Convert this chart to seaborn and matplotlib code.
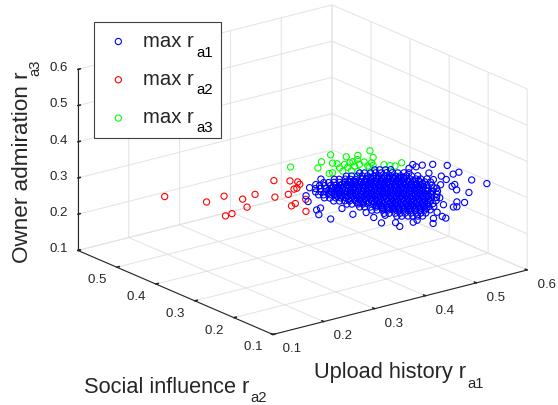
from matplotlib import pyplot as plt
import pandas as pd
import seaborn as sns

sns.set_theme(style="white")
plt.rcParams["font.family"] = ["Liberation Sans", "DejaVu Sans"]

# Values
red_a1 = [.227, .281, .287, .312, .315, .333, .331, .329, .306, .323, .333, .340, .345, .344, .349, .341, .375, .376, .377, .402]
red_a2 = [.543, .506, .469, .454, .426, .470, .506, .520, .366, .347, .340, .344, .358, .364, .385, .409, .401, .412, .377, .409]
red_a3 = [.230, .213, .244, .234, .259, .197, .163, .151, .328, .330, .327, .316, .297, .292, .266, .250, .224, .212, .246, .189]

green_a1 = [.295, .325, .316, .311, .330, .336, .348, .350, .331, .340, .343, .360, .348, .348, .347, .345, .347, .354, .359, .357, .365, .373, .360, .369, .376, .372, .386, .394, .400, .400, .360, .377]
green_a2 = [.309, .278, .257, .227, .247, .243, .279, .273, .213, .195, .168, .182, .207, .218, .225, .236, .251, .239, .228, .256, .244, .238, .205, .198, .203, .211, .188, .183, .178, .161, .217, .214]
green_a3 = [.396, .397, .427, .462, .423, .421, .373, .377, .456, .465, .489, .458, .445, .434, .428, .419, .402, .407, .413, .387, .391, .389, .435, .433, .421, .417, .426, .423, .422, .439, .423, .409]

blue_a1 = [
    .530, .507, .478, .476, .452, .435, .426, .415, .423, .419, .449, .468, .480, .467, .485, .500, .499,
    .512, .530, .546, .537, .544, .547, .529, .511, .559, .552, .557, .547, .538, .534, .534, .529, .517,
    .503, .484, .491, .466, .456, .443, .422, .410, .410, .433, .384, .357, .370, .357, .351,
    .387, .392, .398, .403,
    .378, .383, .389, .394, .400, .405, .411, .417, .423, .428,
    .371, .376, .382, .387, .392, .399, .404, .410, .415, .421, .426, .432, .437, .443,
    .365, .370, .376, .382, .387, .393, .398, .403, .409, .414, .420, .425, .430, .436, .442, .448, .453, .459,
    .361, .366, .371, .377, .382, .387, .393, .398, .403, .409, .414, .419, .426, .431, .436, .442, .447, .452, .458, .463, .469,
    .363, .368, .374, .379, .384, .390, .395, .400, .406, .412, .417, .423, .428, .433, .439, .444, .449, .455, .460, .465, .472, .477,
    .365, .370, .376, .381, .386, .393, .398, .403, .409, .414, .419, .425, .430, .435, .441, .446, .452, .458, .463, .468, .474, .479, .485, .488,
    .372, .377, .382, .388, .393, .398, .404, .409, .414, .420, .425, .430, .437, .442, .447, .453, .458, .463, .469, .474, .479, .485, .490, .495,
    .381, .386, .392, .397, .402, .408, .413, .419, .425, .430, .435, .441, .446, .451, .457, .462, .467, .473, .479, .484, .490, .495, .501,
    .393, .399, .405, .410, .415, .421, .426, .431, .437, .442, .447, .453, .459, .464, .470, .475, .480, .486, .491, .496, .502, .507,
    .409, .415, .420, .425, .431, .436, .442, .448, .453, .458, .464, .469, .474, .480, .485, .490, .496, .502, .507, .513,
    .429, .434, .440, .445, .450, .456, .461, .466, .472, .477, .483, .489, .494, .499, .505, .510, .516,
    .448, .453, .459, .465, .470, .476, .481, .486, .492, .497, .502, .508, .513, .518, .523,
    .467, .472, .478, .483, .488, .494, .499, .504, .511, .516, .521, .526,
    .486, .491, .497, .502, .507, .513, .518, .523, .528,
    .505, .510, .516, .521, .526, .531,
    .382, .388, .393, .399, .404, .409, .415, .420, .426, .431, .436, .442, .448, .454,
    .383, .388, .393, .399, .404, .409, .415, .420, .425, .432, .437, .442, .448, .453, .458, .464,
    .380, .385, .390, .396, .401, .406, .412, .418, .423, .429, .434, .439, .445, .450, .455, .461, .466, .471,
    .382, .387, .392, .399, .404, .409, .415, .420, .425, .431, .436, .441, .447, .452, .458, .464, .469, .474, .480,
    .388, .394, .399, .404, .410, .415, .420, .426, .431, .436, .443, .448, .453, .459, .464, .469, .475, .480, .485, .491,
    .403, .408, .414, .419, .425, .431, .436, .441, .447, .452, .457, .463, .468, .473, .479, .485, .490, .496,
    .421, .427, .432, .437, .443, .448, .453, .459, .465, .470, .476, .481, .486, .492, .497, .502,
    .437, .442, .448, .454, .459, .464, .470, .475, .480, .486, .491, .496, .502, .508,
    .462, .467, .472, .478, .483, .489, .495, .500, .505, .511,
    .398, .405, .410, .416, .421, .427, .432,
    .476, .482, .487, .492, .498, .503, .508, .514, .519,
]
blue_a2 = [
    .112, .121, .116, .128, .112, .127, .142, .152, .154, .167, .155, .148, .151, .167, .172, .162, .154,
    .166, .158, .190, .198, .216, .211, .222, .208, .255, .255, .285, .271, .250, .296, .306, .334, .329,
    .347, .342, .322, .338, .359, .399, .402, .392, .382, .357, .380, .341, .367, .325, .304,
    .213, .207, .200, .193,
    .240, .234, .226, .220, .213, .206, .199, .193, .185, .179,
    .265, .258, .251, .245, .238, .231, .225, .217, .211, .204, .197, .190, .184, .176,
    .288, .282, .274, .268, .262, .254, .248, .242, .234, .228, .221, .214, .208, .201, .194, .187, .181, .173,
    .310, .304, .297, .290, .284, .277, .270, .264, .258, .250, .244, .238, .230, .224, .218, .210, .204, .198, .190, .184, .177,
    .323, .317, .309, .303, .297, .289, .283, .277, .269, .263, .257, .250, .243, .237, .230, .223, .217, .210, .203, .197, .190, .184,
    .336, .330, .323, .316, .310, .303, .296, .290, .283, .277, .270, .263, .257, .250, .243, .237, .230, .223, .217, .210, .203, .197, .189, .186,
    .345, .338, .332, .325, .318, .312, .305, .299, .292, .285, .279, .272, .265, .259, .252, .245, .239, .232, .225, .219, .213, .205, .199, .193,
    .349, .343, .335, .329, .323, .316, .309, .303, .296, .289, .283, .276, .269, .263, .256, .249, .243, .236, .230, .223, .216, .210, .202,
    .350, .344, .336, .330, .324, .316, .310, .304, .296, .290, .284, .276, .270, .264, .257, .250, .244, .237, .230, .224, .217, .211,
    .347, .340, .333, .327, .320, .313, .307, .300, .294, .287, .280, .274, .267, .260, .254, .247, .240, .234, .228, .220,
    .339, .333, .325, .319, .313, .306, .299, .293, .286, .279, .273, .266, .260, .253, .246, .240, .232,
    .331, .325, .318, .311, .305, .298, .291, .285, .278, .272, .265, .258, .252, .245, .239,
    .325, .318, .311, .305, .298, .291, .285, .278, .271, .265, .259, .252,
    .318, .312, .304, .298, .292, .284, .278, .272, .266,
    .310, .304, .296, .290, .284, .278,
    .275, .269, .263, .255, .249, .243, .235, .229, .222, .215, .209, .202, .195, .188,
    .291, .285, .278, .271, .265, .259, .251, .245, .239, .231, .225, .219, .211, .205, .199, .191,
    .310, .304, .298, .290, .284, .278, .270, .264, .258, .251, .244, .238, .231, .224, .218, .211, .204, .198,
    .324, .317, .311, .304, .297, .291, .284, .278, .271, .264, .258, .251, .244, .238, .231, .224, .218, .211, .204,
    .333, .326, .319, .313, .306, .300, .293, .286, .280, .273, .266, .260, .253, .246, .240, .233, .226, .220, .214, .206,
    .330, .324, .317, .310, .304, .297, .290, .284, .277, .270, .264, .257, .250, .244, .237, .231, .224, .217,
    .325, .317, .311, .305, .297, .291, .285, .277, .271, .265, .258, .251, .245, .238, .231, .225,
    .321, .314, .308, .301, .295, .288, .281, .275, .268, .261, .255, .248, .241, .235,
    .307, .300, .294, .287, .280, .274, .267, .261, .254, .247,
    .239, .232, .226, .218, .212, .205, .198,
    .306, .299, .292, .286, .279, .273, .266, .259, .253,
]
blue_a3 = [
    .358, .372, .406, .396, .436, .438, .432, .433, .423, .414, .396, .384, .369, .366, .343, .338, .347,
    .322, .312, .264, .265, .240, .242, .249, .281, .186, .193, .158, .182, .212, .170, .160, .137, .154,
    .150, .174, .187, .196, .185, .158, .176, .198, .208, .210, .236, .302, .263, .318, .345,
    .400, .401, .402, .404,
    .382, .383, .385, .386, .387, .389, .390, .390, .392, .393,
    .364, .366, .367, .368, .370, .370, .371, .373, .374, .375, .377, .378, .379, .381,
    .347, .348, .350, .350, .351, .353, .354, .355, .357, .358, .359, .361, .362, .363, .364, .365, .366, .368,
    .329, .330, .332, .333, .334, .336, .337, .338, .339, .341, .342, .343, .344, .345, .346, .348, .349, .350, .352, .353, .354,
    .314, .315, .317, .318, .319, .321, .322, .323, .325, .325, .326, .327, .329, .330, .331, .333, .334, .335, .337, .338, .338, .339,
    .299, .300, .301, .303, .304, .304, .306, .307, .308, .309, .311, .312, .313, .315, .316, .317, .318, .319, .320, .322, .323, .324, .326, .326,
    .283, .285, .286, .287, .289, .290, .291, .292, .294, .295, .296, .298, .298, .299, .301, .302, .303, .305, .306, .307, .308, .310, .311, .312,
    .270, .271, .273, .274, .275, .276, .278, .278, .279, .281, .282, .283, .285, .286, .287, .289, .290, .291, .291, .293, .294, .295, .297,
    .257, .257, .259, .260, .261, .263, .264, .265, .267, .268, .269, .271, .271, .272, .273, .275, .276, .277, .279, .280, .281, .282,
    .244, .245, .247, .248, .249, .251, .251, .252, .253, .255, .256, .257, .259, .260, .261, .263, .264, .264, .265, .267,
    .232, .233, .235, .236, .237, .238, .240, .241, .242, .244, .244, .245, .246, .248, .249, .250, .252,
    .221, .222, .223, .224, .225, .226, .228, .229, .230, .231, .233, .234, .235, .237, .238,
    .208, .210, .211, .212, .214, .215, .216, .218, .218, .219, .220, .222,
    .196, .197, .199, .200, .201, .203, .204, .205, .206,
    .185, .186, .188, .189, .190, .191,
    .343, .343, .344, .346, .347, .348, .350, .351, .352, .354, .355, .356, .357, .358,
    .326, .327, .329, .330, .331, .332, .334, .335, .336, .337, .338, .339, .341, .342, .343, .345,
    .310, .311, .312, .314, .315, .316, .318, .318, .319, .320, .322, .323, .324, .326, .327, .328, .330, .331,
    .294, .296, .297, .297, .299, .300, .301, .302, .304, .305, .306, .308, .309, .310, .311, .312, .313, .315, .316,
    .279, .280, .282, .283, .284, .285, .287, .288, .289, .291, .291, .292, .294, .295, .296, .298, .299, .300, .301, .303,
    .267, .268, .269, .271, .271, .272, .274, .275, .276, .278, .279, .280, .282, .283, .284, .284, .286, .287,
    .254, .256, .257, .258, .260, .261, .262, .264, .264, .265, .266, .268, .269, .270, .272, .273,
    .242, .244, .244, .245, .246, .248, .249, .250, .252, .253, .254, .256, .257, .257,
    .231, .233, .234, .235, .237, .237, .238, .239, .241, .242,
    .363, .363, .364, .366, .367, .368, .370,
    .218, .219, .221, .222, .223, .224, .226, .227, .228,
]

ticks = [.1, .2, .3, .4, .5, .6]

df = pd.DataFrame({
    "a1": blue_a1 + red_a1 + green_a1,
    "a2": blue_a2 + red_a2 + green_a2,
    "a3": blue_a3 + red_a3 + green_a3,
    "trida": ["a1"] * len(blue_a1) + ["a2"] * len(red_a1) + ["a3"] * len(green_a1),
})
barvy = {"a1": "#0000ff", "a2": "#ff0000", "a3": "#00ff00"}
poradi = {"a1": 3, "a2": 2, "a3": 2}
seda = "#262626"

fig = plt.figure(figsize=(5.58, 4.05), dpi=100)
ax = fig.add_axes([57.2 / 558, -10 / 405, 477.7 / 558, 477.7 / 405], projection="3d", proj_type="ortho",
                  computed_zorder=False)
ax.view_init(elev=19.3, azim=-127.5)
ax.set_box_aspect((319, 319, 191))
ax.patch.set_alpha(0)

# Sub-indices are placed on their own further down, they sit lower than mathtext would put them
for trida, cast in df.groupby("trida"):
    ax.scatter(cast["a1"], cast["a2"], cast["a3"], s=20, facecolors="none", edgecolors=barvy[trida],
               linewidths=0.8, depthshade=False, zorder=poradi[trida], label="max r")

ax.set_xlim(.1, .6, view_margin=0)
ax.set_ylim(.1, .6, view_margin=0)
ax.set_zlim(.1, .6, view_margin=0)
ax.set_xticks(ticks)
ax.set_yticks(ticks)
ax.set_zticks(ticks)
ax.set_xticklabels([" 0.1", " 0.2", " 0.3", " 0.4", " 0.5", " 0.6"])
ax.set_yticklabels(["0.1 ", "0.2 ", "0.3 ", "0.4 ", "0.5 ", ""])

for osa in [ax.xaxis, ax.yaxis, ax.zaxis]:
    osa.set_pane_color((1, 1, 1, 0))
    osa.pane.set_edgecolor("#e2e2e2")
    osa.line.set_color(seda)
    osa.line.set_linewidth(0.8)
    osa._axinfo["grid"].update(color="#e2e2e2", linewidth=0.7)
    osa._axinfo["tick"].update(inward_factor=0.0, outward_factor=0.12)
ax.tick_params(labelsize=9.5, labelcolor=seda, color=seda)
ax.tick_params(axis="x", pad=-2)
ax.tick_params(axis="y", pad=-3)
ax.zaxis.set_ticks_position("upper")

for t in ax.get_xticklabels():
    t.set_ha("left")
for t in ax.get_yticklabels():
    t.set_ha("right")
for t in ax.get_zticklabels():
    t.set_ha("left")
    t.set_va("center")

leg = fig.legend(loc="upper left", bbox_to_anchor=(93.7 / 558, 1 - 137.3 / 405, 127 / 558, 115.6 / 405),
                 mode="expand", fontsize=14.6, fancybox=False, framealpha=1, edgecolor="#404040",
                 borderaxespad=0, labelspacing=0.95, handletextpad=0.49, borderpad=0.5, handlelength=1.43)
leg.get_frame().set_linewidth(0.8)


def popisek(x, y, text, velikost, **kwargs):
    # x, y are pixels from the top left corner
    fig.text(x / 558, 1 - y / 405, text, fontsize=velikost, color=kwargs.pop("color", seda), va="baseline", **kwargs)


for y, sub in zip([57, 94.5, 132], ["a1", "a2", "a3"]):
    popisek(196.7, y, sub, 10.8, color="black", zorder=10)

popisek(314, 378.3, "Upload history r", 15.7)
popisek(467.3, 387.7, "a1", 10.6)
popisek(84, 393.3, "Social influence r", 15.7)
popisek(250.7, 402, "a2", 10.6)
popisek(28.3, 263, "Owner admiration r", 16.2, rotation=90, rotation_mode="anchor")
popisek(39.3, 75.5, "a3", 10.6, rotation=90, rotation_mode="anchor")

fig.savefig("out.png", dpi=100)
